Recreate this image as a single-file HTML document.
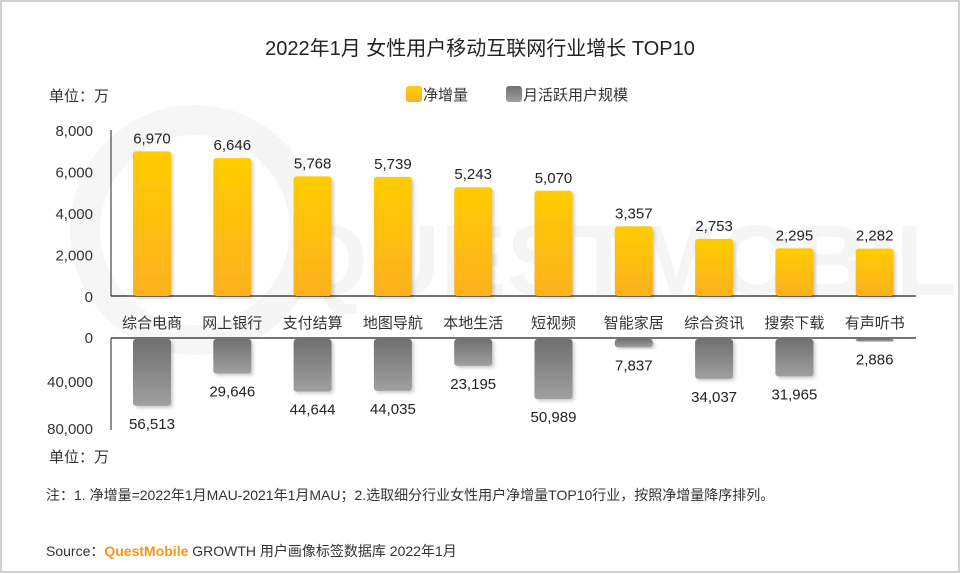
<!DOCTYPE html>
<html><head><meta charset="utf-8"><style>
body{margin:0;background:#fff;}
svg{display:block;font-family:"Liberation Sans","Noto Sans CJK SC",sans-serif;}
</style></head><body>
<svg width="960" height="574" viewBox="0 0 960 574">
<defs>
<linearGradient id="gy" x1="0" y1="0" x2="0" y2="1"><stop offset="0" stop-color="#ffcc00"/><stop offset="1" stop-color="#fdb120"/></linearGradient>
<linearGradient id="gg" x1="0" y1="0" x2="0" y2="1"><stop offset="0" stop-color="#707070"/><stop offset="1" stop-color="#a0a0a0"/></linearGradient>
<filter id="sh" x="-20%" y="-10%" width="150%" height="130%"><feDropShadow dx="2" dy="2" stdDeviation="1.5" flood-color="#000" flood-opacity="0.2"/></filter>
</defs>
<rect x="1" y="1" width="958" height="571" fill="#fff" stroke="#cfcfcf" stroke-width="2"/>
<g opacity="0.035">
<circle cx="195" cy="230" r="110" fill="none" stroke="#000" stroke-width="30"/>
<text x="290" y="295" font-size="100" font-weight="bold" fill="#000">QUESTMOBILE</text>
</g>
<text x="480" y="55" text-anchor="middle" font-size="20" fill="#222">2022年1月 女性用户移动互联网行业增长 TOP10</text>
<text x="49" y="101" font-size="15" fill="#333">单位：万</text>
<g>
<rect x="406" y="86" width="16" height="16" rx="3" fill="url(#gy)"/>
<text x="423" y="100" font-size="15" fill="#333">净增量</text>
<rect x="506" y="86" width="16" height="16" rx="3" fill="url(#gg)"/>
<text x="523" y="100" font-size="15" fill="#333">月活跃用户规模</text>
</g>
<g id="plot"></g>
<text x="49" y="462" font-size="15" fill="#333">单位：万</text>
<text x="46" y="500" font-size="14" fill="#333">注：1. 净增量=2022年1月MAU-2021年1月MAU；2.选取细分行业女性用户净增量TOP10行业，按照净增量降序排列。</text>
<text x="46" y="556" font-size="14" fill="#333">Source：<tspan fill="#f7941d" font-weight="bold">QuestMobile</tspan> GROWTH 用户画像标签数据库 2022年1月</text>
</svg>
<script>
const categories=["综合电商","网上银行","支付结算","地图导航","本地生活","短视频","智能家居","综合资讯","搜索下载","有声听书"];
const netGrowth=[6970,6646,5768,5739,5243,5070,3357,2753,2295,2282];
const mau=[56513,29646,44644,44035,23195,50989,7837,34037,31965,2886];
const topTicks=[0,2000,4000,6000,8000];
const bottomTicks=[0,40000,80000];
const NS="http://www.w3.org/2000/svg";
const g=document.getElementById('plot');
function el(t,a,txt){const e=document.createElementNS(NS,t);for(const k in a)e.setAttribute(k,a[k]);if(txt!==undefined)e.textContent=txt;g.appendChild(e);return e;}
const fmt=v=>v.toLocaleString('en-US');
const xC=i=>152+i*80.3;
const yTop=v=>296-v/8000*166;
const yBot=v=>338+v/80000*96;
const bw=38;
let a=el('line',{x1:111,y1:130,x2:111,y2:296,stroke:'#222','stroke-width':1});


a=el('line',{x1:111,y1:296,x2:916,y2:296,stroke:'#222','stroke-width':1.2});


a=el('line',{x1:111,y1:338,x2:111,y2:430,stroke:'#222','stroke-width':1});


a=el('line',{x1:111,y1:338,x2:916,y2:338,stroke:'#222','stroke-width':1.2});


topTicks.forEach(v=>{const t=el('text',{x:93,y:yTop(v)+6,'text-anchor':'end','font-size':15,fill:'#333'},fmt(v));

});
bottomTicks.forEach(v=>{const t=el('text',{x:93,y:(v===0?338:v===40000?382:429)+5,'text-anchor':'end','font-size':15,fill:'#333'},fmt(v));

});
categories.forEach((c,i)=>{
const x=xC(i);
const y1=yTop(netGrowth[i]);
const b=el('rect',{x:x-bw/2,y:y1,width:bw,height:296-y1,rx:3,fill:'url(#gy)',filter:'url(#sh)'});


const l=el('text',{x:x,y:y1-8,'text-anchor':'middle','font-size':15,fill:'#222'},fmt(netGrowth[i]));


const cl=el('text',{x:x,y:328,'text-anchor':'middle','font-size':15,fill:'#333'},c);


const y2=yBot(mau[i]);
const m=el('rect',{x:x-bw/2,y:339,width:bw,height:y2-339,rx:3,fill:'url(#gg)',filter:'url(#sh)'});


const ml=el('text',{x:x,y:y2+23,'text-anchor':'middle','font-size':15,fill:'#222'},fmt(mau[i]));


});
</script>
</body></html>
